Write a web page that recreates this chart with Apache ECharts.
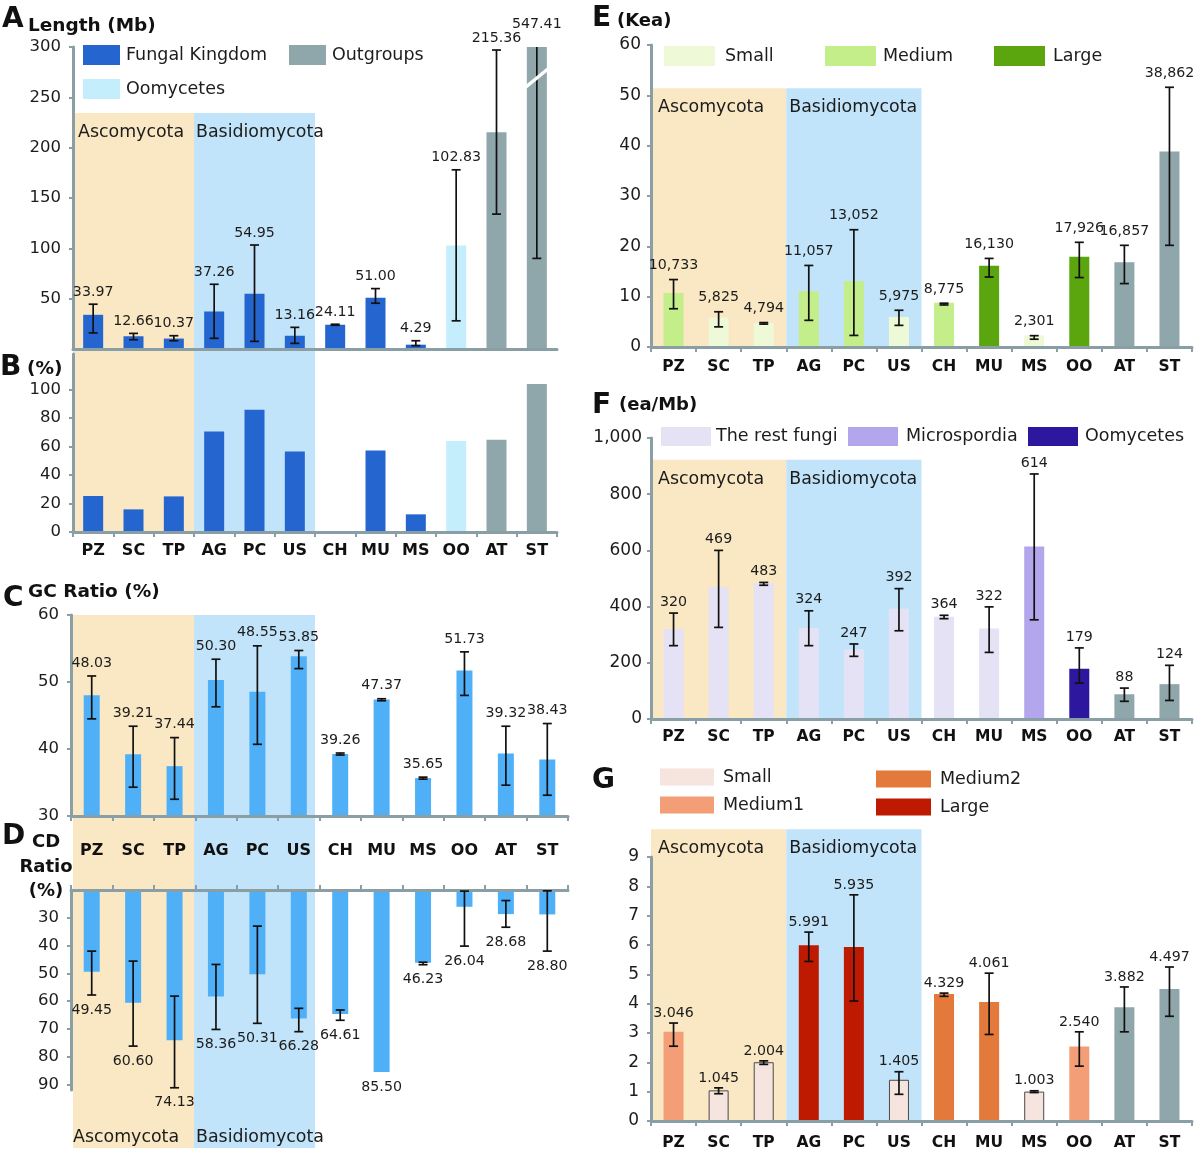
<!DOCTYPE html>
<html><head><meta charset="utf-8">
<script src="https://cdn.jsdelivr.net/npm/echarts@6/dist/echarts.min.js"></script>
<style>html,body{margin:0;padding:0;background:#fff}#c{width:1200px;height:1156px}</style>
</head><body><div id="c"></div>
<script>
// ---------------- DATA ----------------
const categories = ['PZ','SC','TP','AG','PC','US','CH','MU','MS','OO','AT','ST'];
const cladeNames = ['Ascomycota','Basidiomycota'];
const cladeSpans = [[0,2],[3,5]];

// A: genome length (Mb)
const lengthMb    = [33.97,12.66,10.37,37.26,54.95,13.16,24.11,51.00,4.29,102.83,215.36,547.41];
const lengthLow   = [16,9.2,8.2,10.6,7.6,5.6,23.6,45.5,3.3,28,134,90];
const lengthHigh  = [44.5,15.5,13.2,64.3,103.3,21.5,24.6,60,8.2,178,297,700];
const lengthGroup = ['Fungal Kingdom','Fungal Kingdom','Fungal Kingdom','Fungal Kingdom','Fungal Kingdom','Fungal Kingdom','Fungal Kingdom','Fungal Kingdom','Fungal Kingdom','Oomycetes','Outgroups','Outgroups'];
const lengthTicks = [50,100,150,200,250,300];

// B: percent
const percentB     = [25.3,15.9,25.0,70.6,85.9,56.6,0,57.3,12.4,63.9,64.8,103.9];
const percentTicks = [0,20,40,60,80,100];

// C: GC ratio (%)
const gcRatio = [48.03,39.21,37.44,50.30,48.55,53.85,39.26,47.37,35.65,51.73,39.32,38.43];
const gcLow   = [44.5,34.3,32.5,46.3,40.7,52.0,39.1,47.2,35.5,48.0,34.6,33.1];
const gcHigh  = [50.9,43.4,41.7,53.4,55.4,54.7,39.4,47.5,35.8,54.5,43.4,43.8];
const gcTicks = [30,40,50,60];

// D: CD ratio (%)
const cdRatio = [49.45,60.60,74.13,58.36,50.31,66.28,64.61,85.50,46.23,26.04,28.68,28.80];
const cdLow   = [42.0,45.6,58.2,46.8,33.0,62.6,63.2,null,46.0,20.4,23.8,20.3];
const cdHigh  = [57.8,76.2,91.2,70.2,68.0,71.0,66.9,null,46.9,40.2,33.4,42.0];
const cdTicks = [30,40,50,60,70,80,90];

// E: gene count (ea, axis in Kea)
const geneCount = [10733,5825,4794,11057,13052,5975,8775,16130,2301,17926,16857,38862];
const geneLow   = [7600,4000,4550,5300,2300,4300,8350,13900,1550,13800,12600,20200];
const geneHigh  = [13400,7000,4850,16200,23300,7300,8700,17600,2250,20800,20200,51600];
const geneGroup = ['Medium','Small','Small','Medium','Medium','Small','Medium','Large','Small','Large','Outgroups','Outgroups'];
const geneTicks = [0,10000,20000,30000,40000,50000,60000];

// F: gene density (ea/Mb)
const geneDensity  = [320,469,483,324,247,392,364,322,614,179,88,124];
const densityLow   = [261,326,476,261,223,314,357,237,353,128,63,66];
const densityHigh  = [377,600,486,385,267,464,369,399,872,253,110,191];
const densityGroup = ['The rest fungi','The rest fungi','The rest fungi','The rest fungi','The rest fungi','The rest fungi','The rest fungi','The rest fungi','Microspordia','Oomycetes','Outgroups','Outgroups'];
const densityTicks = [0,200,400,600,800,1000];

// G
const ratioG     = [3.046,1.045,2.004,5.991,5.935,1.405,4.329,4.061,1.003,2.540,3.882,4.497];
const ratioLow   = [2.55,0.93,1.93,5.44,4.09,0.91,4.25,2.95,0.97,1.87,3.04,3.57];
const ratioHigh  = [3.34,1.13,2.05,6.44,7.71,1.68,4.36,5.04,1.03,3.04,4.57,5.25];
const ratioGroup = ['Medium1','Small','Small','Large','Large','Small','Medium2','Medium2','Small','Medium1','Outgroups','Outgroups'];
const ratioTicks = [0,1,2,3,4,5,6,7,8,9];

// ---------------- STYLE ----------------
const FONT = 'DejaVu Sans';
const AXIS = '#8a9fa5';
const TXT = '#1c1c1c';
const GRAY = '#8fa6ab';
const BAND = ['#f9e8c3', '#c2e4fa'];
const CD_BLUE = '#4fb0f8';
const comma = v => Math.round(v).toString().replace(/\B(?=(\d{3})+(?!\d))/g, ',');

const panels = [
  {id:'A', grid:{left:73,top:47,width:484,height:302}, values:lengthMb, low:lengthLow, high:lengthHigh, groups:lengthGroup,
   colors:{'Fungal Kingdom':'#2565cf','Oomycetes':'#c4eefc','Outgroups':GRAY},
   min:0,max:300,interval:50,ticks:lengthTicks,tickFmt:v=>String(v),barWidth:20,
   cats:false,catMargin:0,catSize:16,xTicks:false,pos:'bottom',labelSize:16.5,yMargin:12,
   fmt:v=>v.toFixed(2),dir:-1,gap:12,overGap:23},
  {id:'B', grid:{left:73,top:354,width:484,height:178}, values:percentB, low:null, groups:lengthGroup,
   colors:{'Fungal Kingdom':'#2565cf','Oomycetes':'#c4eefc','Outgroups':GRAY},
   min:0,max:125,interval:20,ticks:percentTicks,tickFmt:v=>String(v),barWidth:20,
   cats:true,catMargin:11,catSize:16,xTicks:true,pos:'bottom',labelSize:16.5,yMargin:12},
  {id:'C', grid:{left:71,top:615,width:497,height:201}, values:gcRatio, low:gcLow, high:gcHigh, groups:categories.map(()=> 'GC'),
   colors:{'GC':CD_BLUE},
   min:30,max:60,interval:10,ticks:gcTicks,tickFmt:v=>String(v),barWidth:16,
   cats:true,catMargin:27,catSize:16,xTicks:true,pos:'bottom',labelSize:16.5,yMargin:12,
   fmt:v=>v.toFixed(2),dir:-1,gap:13,overGap:20},
  {id:'D', grid:{left:71,top:890,width:497,height:200}, values:cdRatio, low:cdLow, high:cdHigh, groups:categories.map(()=> 'CD'),
   colors:{'CD':CD_BLUE}, inverse:true,
   min:20,max:92,interval:10,ticks:cdTicks,tickFmt:v=>String(v),barWidth:16,
   cats:false,catMargin:0,catSize:16,xTicks:true,pos:'top',labelSize:16.5,yMargin:12,
   fmt:v=>v.toFixed(2),dir:1,gap:15,overGap:20},
  {id:'E', grid:{left:651,top:45,width:541,height:302}, values:geneCount, low:geneLow, high:geneHigh, groups:geneGroup,
   colors:{'Small':'#eef9d7','Medium':'#c4ee8a','Large':'#5ba50f','Outgroups':GRAY},
   min:0,max:60000,interval:10000,ticks:geneTicks,tickFmt:v=>String(v/1000),barWidth:20,
   cats:true,catMargin:12,catSize:15.5,xTicks:true,pos:'bottom',labelSize:17,yMargin:10,
   fmt:v=>comma(v),dir:-1,gap:14,overGap:20, bandTop:51400},
  {id:'F', grid:{left:651,top:438,width:541,height:281}, values:geneDensity, low:densityLow, high:densityHigh, groups:densityGroup,
   colors:{'The rest fungi':'#e5e2f5','Microspordia':'#b4a6ec','Oomycetes':'#2d179f','Outgroups':GRAY},
   min:0,max:1000,interval:200,ticks:densityTicks,tickFmt:v=>comma(v),barWidth:20,
   cats:true,catMargin:10,catSize:15.5,xTicks:true,pos:'bottom',labelSize:17,yMargin:9,
   fmt:v=>String(Math.round(v)),dir:-1,gap:11,overGap:20, bandTop:923},
  {id:'G', grid:{left:651,top:857,width:541,height:264}, values:ratioG, low:ratioLow, high:ratioHigh, groups:ratioGroup,
   colors:{'Small':'#f6e4de','Medium1':'#f39e77','Medium2':'#e4793c','Large':'#bd1a01','Outgroups':GRAY},
   borders:{'Small':true},
   min:0,max:9,interval:1,ticks:ratioTicks,tickFmt:v=>String(v),barWidth:20,
   cats:true,catMargin:14,catSize:15.5,xTicks:true,pos:'bottom',labelSize:17,yMargin:12,
   fmt:v=>v.toFixed(3),dir:-1,gap:10,overGap:20, bandTop:9.95}
];

const option = {animation:false, grid:[], xAxis:[], yAxis:[], series:[], legend:[], graphic:[]};

function bandSeries(k, topVal, topLabel, bottomLabel, offs) {
  return {
    type:'custom', xAxisIndex:k, yAxisIndex:k, z:1, clip:false, silent:true,
    data: cladeSpans.map((s,j)=>[s[0], s[1], j]),
    encode:{x:[0,1]},
    renderItem:(params, api) => {
      const s = api.value(0), e = api.value(1), j = api.value(2);
      const bw = api.size([1,0])[0];
      const p0 = api.coord([s, topVal]);
      const x0 = p0[0] - bw/2;
      const x1 = api.coord([e, topVal])[0] + bw/2;
      const cs = params.coordSys;
      const yBot = cs.y + cs.height;
      const ch = [{type:'rect', shape:{x:x0, y:p0[1], width:x1-x0, height:yBot-p0[1]}, style:{fill:BAND[j]}}];
      const off = offs[j];
      if (topLabel) ch.push({type:'text', style:{text:cladeNames[j], x:x0+off, y:p0[1]+19.5, align:'left', verticalAlign:'middle', fill:TXT, font:'17.4px ' + FONT}});
      if (bottomLabel) ch.push({type:'text', style:{text:cladeNames[j], x:x0+(j?2:0), y:yBot-11, align:'left', verticalAlign:'middle', fill:TXT, font:'17.4px ' + FONT}});
      return {type:'group', children:ch};
    }
  };
}

panels.forEach((p,k) => {
  option.grid.push(Object.assign({containLabel:false}, p.grid));
  option.xAxis.push({gridIndex:k, type:'category', data:categories, position:p.pos, z:3,
    axisLine:{show:true, onZero:false, lineStyle:{color:AXIS, width:3}},
    axisTick:{show:p.xTicks, length:5, lineStyle:{color:AXIS, width:2}},
    axisLabel:{show:p.cats, margin:p.catMargin, fontFamily:FONT, fontWeight:'bold', fontSize:p.catSize, color:'#111'},
    splitLine:{show:false}});
  option.yAxis.push({gridIndex:k, type:'value', min:p.min, max:p.max, interval:p.interval, inverse:!!p.inverse, z:3,
    splitLine:{show:false},
    axisLine:{show:true, onZero:false, lineStyle:{color:AXIS, width:3}},
    axisTick:{show:true, length:4, lineStyle:{color:AXIS, width:2}, customValues:p.ticks},
    axisLabel:{margin:p.yMargin, fontFamily:FONT, fontSize:p.labelSize, color:TXT, formatter:p.tickFmt, customValues:p.ticks}});

  const groupNames = [...new Set(p.groups)];
  groupNames.forEach(g => {
    const st = {color:p.colors[g]};
    if (p.borders && p.borders[g]) { st.borderColor = '#4a4a4a'; st.borderWidth = 1; }
    option.series.push({type:'bar', name:p.id+':'+g, xAxisIndex:k, yAxisIndex:k, barWidth:p.barWidth, barGap:'-100%',
      z:2, silent:true, itemStyle:st,
      data:p.values.map((v,i)=> p.groups[i]===g ? v : '-')});
  });

  if (p.low) {
    option.series.push({type:'custom', name:p.id+':err', xAxisIndex:k, yAxisIndex:k, z:5, clip:false, silent:true,
      data:p.values.map((v,i)=> {
        const has = p.low[i] !== null && p.low[i] !== undefined;
        return [i, has ? p.low[i] : v, has ? p.high[i] : v, v, has ? 1 : 0];
      }),
      encode:{x:0, y:3},
      renderItem:(params, api) => {
        const i = api.value(0), lo = api.value(1), hi = api.value(2), v = api.value(3), has = api.value(4);
        const cs = params.coordSys;
        const top = cs.y, bot = cs.y + cs.height;
        const clamp = y => Math.min(bot, Math.max(top, y));
        const x = api.coord([i, v])[0];
        const ch = [];
        const ls = {stroke:'#111', lineWidth:1.7};
        if (has) {
          const y1 = api.coord([i, lo])[1], y2 = api.coord([i, hi])[1];
          const a = clamp(y1), b = clamp(y2);
          ch.push({type:'line', shape:{x1:x, y1:a, x2:x, y2:b}, style:ls});
          [[y1,a],[y2,b]].forEach(([raw,c]) => {
            if (Math.abs(raw - c) < 0.01) ch.push({type:'line', shape:{x1:x-4.5, y1:c, x2:x+4.5, y2:c}, style:ls});
          });
        }
        const anchor = has ? Math.max(v, hi) : v;
        let ly;
        if (anchor > p.max) ly = p.dir < 0 ? top - p.overGap : bot + p.overGap;
        else ly = api.coord([i, anchor])[1] + p.dir * p.gap;
        ch.push({type:'text', style:{text:p.fmt(v), x:x, y:ly, align:'center', verticalAlign:'middle', fill:TXT, font:'14.2px ' + FONT}});
        if (v > p.max) {
          const yb = top + 31;
          ch.push({type:'line', shape:{x1:x - p.barWidth/2 - 1, y1:yb + 9, x2:x + p.barWidth/2 + 1, y2:yb - 9}, style:{stroke:'#fff', lineWidth:3.5}});
        }
        return {type:'group', children:ch};
      }
    });
  }
  if (p.bandTop !== undefined) option.series.push(bandSeries(k, p.bandTop, true, false, [7, 3]));
});

// clade strips behind panels A-B and C-D
const S1 = panels.length;
option.grid.push({left:73, top:113, width:484, height:419});
option.xAxis.push({gridIndex:S1, type:'category', data:categories, show:false});
option.yAxis.push({gridIndex:S1, type:'value', min:0, max:1, show:false});
option.series.push(bandSeries(S1, 1, true, false, [5, 2]));
const S2 = panels.length + 1;
option.grid.push({left:73, top:615, width:484, height:533});
option.xAxis.push({gridIndex:S2, type:'category', data:categories, show:false});
option.yAxis.push({gridIndex:S2, type:'value', min:0, max:1, show:false});
option.series.push(bandSeries(S2, 1, false, true, [5, 2]));

// legends
function L(name, left, top, w, h, pad) {
  return {data:[name], left:left, top:top, itemWidth:w, itemHeight:h, padding:0, selectedMode:false, icon:'rect',
    formatter:n => n.split(':')[1], itemStyle:{borderWidth:0},
    textStyle:{fontFamily:FONT, fontSize:17.5, color:TXT, padding:[0,0,0,pad]}};
}
option.legend = [
  L('A:Fungal Kingdom', 83, 45, 37, 20, 1),
  L('A:Outgroups', 289, 45, 37, 20, 1),
  L('A:Oomycetes', 83, 79, 37, 20, 1),
  L('E:Small', 664, 46, 51, 20, 5),
  L('E:Medium', 825, 46, 51, 20, 2),
  L('E:Large', 994, 46, 51, 20, 3),
  L('F:The rest fungi', 661, 427, 50, 19, 0),
  L('F:Microspordia', 848, 427, 50, 19, 3),
  L('F:Oomycetes', 1028, 427, 50, 19, 2),
  L('G:Small', 660, 768, 54, 17, 4),
  L('G:Medium2', 876, 770, 55, 17, 4),
  L('G:Medium1', 660, 796, 54, 17, 4),
  L('G:Large', 876, 798, 55, 17, 4)
];

// titles
const titles = [
  ['A', 2, 20, 28], ['Length (Mb)', 28, 26, 18.5],
  ['B', 0, 368, 28], ['(%)', 27, 369, 18.5],
  ['C', 3, 599, 28], ['GC Ratio (%)', 28, 592, 18.5],
  ['D', 2, 837, 28],
  ['E', 592, 19, 28], ['(Kea)', 617, 21, 18],
  ['F', 592, 406, 28], ['(ea/Mb)', 619, 405, 18],
  ['G', 592, 781, 28]
];
option.graphic = titles.map(t => ({type:'text', x:t[1], y:t[2], z:100, silent:true,
  style:{text:t[0], align:'left', verticalAlign:'middle', fill:'#111', font:'bold ' + t[3] + 'px ' + FONT}}));
option.graphic.push({type:'text', x:46, y:867, z:100, silent:true,
  style:{text:'CD\nRatio\n(%)', align:'center', verticalAlign:'middle', lineHeight:24.5, fill:'#111', font:'bold 18px ' + FONT}});

const chart = echarts.init(document.getElementById('c'), null, {renderer:'canvas'});
chart.setOption(option);
</script>
</body></html>
